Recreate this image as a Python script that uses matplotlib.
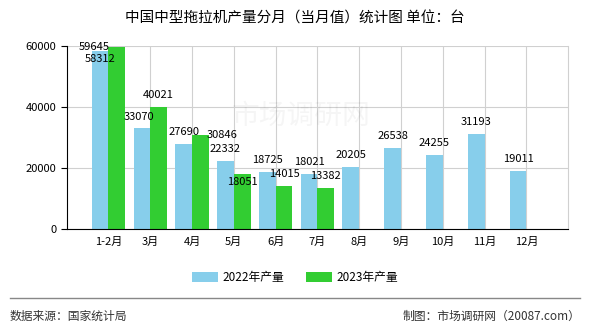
import matplotlib.pyplot as plt
import numpy as np

plt.rcParams['font.family'] = ['Noto Sans CJK SC', 'DejaVu Sans']

months = ['1-2月', '3月', '4月', '5月', '6月', '7月', '8月', '9月', '10月', '11月', '12月']
prod_2022 = [58312, 33070, 27690, 22332, 18725, 18021, 20205, 26538, 24255, 31193, 19011]
prod_2023 = [59645, 40021, 30846, 18051, 14015, 13382]

fig = plt.figure(figsize=(5.9, 3.3), dpi=100)
ax = fig.add_axes([0.113, 0.306, 0.85, 0.555])

x = np.arange(len(months))
w = 0.4
bars22 = ax.bar(x[:len(prod_2022)] - w / 2, prod_2022, w, color='#87CEEB', label='2022年产量', zorder=2)
bars23 = ax.bar(x[:len(prod_2023)] + w / 2, prod_2023, w, color='#32CD32', label='2023年产量', zorder=2)

# label offsets in pixels (default: centered, 12px above the bar)
off22 = {0: (0, -8), 1: (-3, 11)}
off23 = {0: (-23, 0), 2: (22, 0), 3: (0, -8)}

for bars, vals, offs in [(bars22, prod_2022, off22), (bars23, prod_2023, off23)]:
    for i, (b, v) in enumerate(zip(bars, vals)):
        dx, dy = offs.get(i, (0, 12))
        ax.annotate(str(v), (b.get_x() + b.get_width() / 2, v),
                    xytext=(dx, dy), textcoords='offset pixels',
                    ha='center', va='center', fontsize=8, zorder=5)

ax.set_xlim(-1, 11)
ax.set_ylim(0, 60000)
ax.set_yticks([0, 20000, 40000, 60000])
ax.set_xticks(x)
ax.set_xticklabels(months)
ax.tick_params(axis='x', length=0, labelsize=8, pad=6)
ax.tick_params(axis='y', length=4, labelsize=8)
ax.grid(True, color='#d0d0d0', linewidth=0.8, zorder=0)
ax.spines['top'].set_visible(False)
ax.spines['right'].set_color('#d0d0d0')
ax.spines['left'].set_color('black')
ax.spines['bottom'].set_color('black')
ax.set_axisbelow(True)

# watermark
ax.text(4.6, 37000, '市场调研网', fontsize=20, color='#000000', alpha=0.04,
        ha='center', va='center', zorder=1)

fig.text(0.5, 0.945, '中国中型拖拉机产量分月（当月值）统计图 单位：台',
         ha='center', va='center', fontsize=10.5)

fig.legend(loc='center', bbox_to_anchor=(0.5, 0.16), ncol=2, frameon=False,
           fontsize=8.5, handlelength=2.2, handleheight=0.9, columnspacing=1.8,
           handletextpad=0.4)

fig.add_artist(plt.Line2D([0.017, 0.983], [0.097, 0.097], color='#888888', linewidth=1))
fig.text(0.017, 0.042, '数据来源：国家统计局', ha='left', va='center', fontsize=8.5, color='#333333')
fig.text(0.983, 0.042, '制图：市场调研网（20087.com）', ha='right', va='center', fontsize=8.5, color='#333333')

fig.savefig('out.png', dpi=100)
